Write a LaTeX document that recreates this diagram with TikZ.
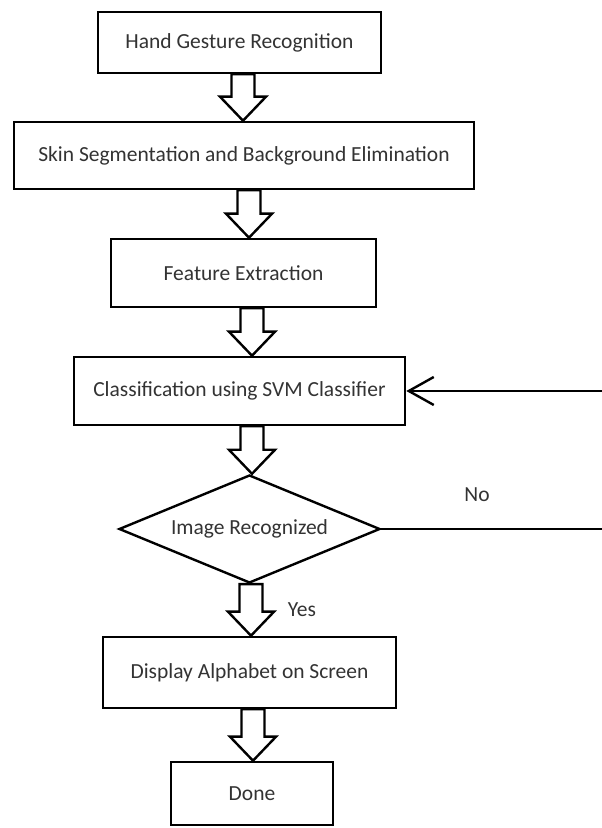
\documentclass[tikz,border=0pt]{standalone}
\usepackage{fontspec}
\setmainfont{Carlito}
\usetikzlibrary{shapes.geometric,arrows.meta,calc}
\newcommand{\barrow}[3]{%
  \draw[blockarr] let \p1=(#1.south), \p2=(#2.north) in
    (#3pt-11.5pt,\y1) -- (#3pt+11.5pt,\y1) -- (#3pt+11.5pt,\y2+24pt)
    -- (#3pt+23pt,\y2+24pt) -- (#3pt,\y2) -- (#3pt-23pt,\y2+24pt)
    -- (#3pt-11.5pt,\y2+24pt) -- cycle;}
\begin{document}
\begin{tikzpicture}[x=1pt,y=1pt,
  txt/.style={font=\fontsize{21.5}{25}\selectfont, text=black!80},
  box/.style={txt, draw=black, line width=2.6pt, rectangle, inner sep=0pt},
  dia/.style={txt, draw=black, line width=2.4pt, diamond, aspect=2.42, inner sep=0pt},
  blockarr/.style={draw=black, fill=white, line width=2.4pt, line join=miter},
  lbl/.style={txt, inner sep=0pt},
  fb/.style={draw=black, line width=2.4pt}]
\fill[white] (0,0) rectangle (602,828);
\useasboundingbox (0,0) rectangle (602,828);

\node[box, minimum width=283pt, minimum height=61pt] (a) at (239.5,785.5) {Hand Gesture Recognition};
\node[box, minimum width=460pt, minimum height=67pt] (b) at (244,672.5) {Skin Segmentation and Background Elimination};
\node[box, minimum width=265pt, minimum height=68pt] (c) at (243.5,555) {Feature Extraction};
\node[box, minimum width=331pt, minimum height=68pt] (d) at (239.5,437) {Classification using SVM Classifier};
\node[dia, minimum width=261pt, minimum height=108pt] (e) at (249.5,299) {Image Recognized};
\node[box, minimum width=293pt, minimum height=71pt] (f) at (249.5,155.5) {Display Alphabet on Screen};
\node[box, minimum width=162pt, minimum height=63pt] (g) at (252,34.5) {Done};

\barrow{a}{b}{243}
\barrow{b}{c}{249}
\barrow{c}{d}{252}
\barrow{d}{e}{252}
\barrow{e}{f}{251}
\barrow{f}{g}{253}

\node[lbl] (no) at (477,333) {No};
\node[lbl] (yes) at (302,218) {Yes};

\begin{scope}
  \clip (0,0) rectangle (602,828);
  \coordinate (r1) at (612,299);
  \draw[fb, -{Straight Barb[length=25pt,width=28pt]}] (e.east) -- (r1) |- (d.east);
\end{scope}
\end{tikzpicture}
\end{document}
